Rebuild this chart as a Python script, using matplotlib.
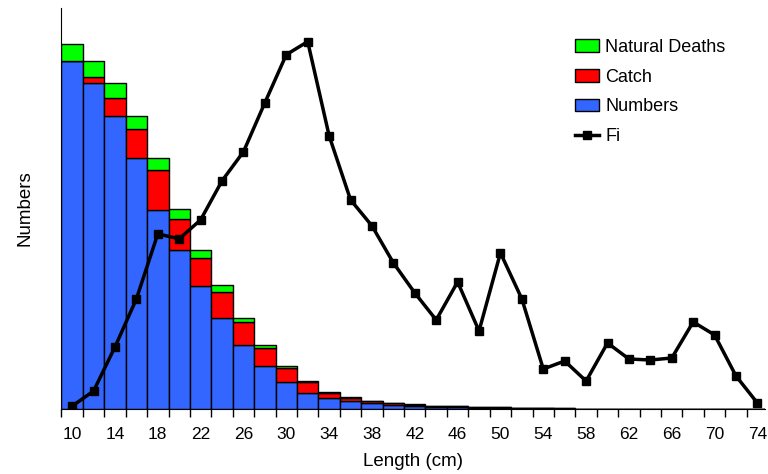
import matplotlib.pyplot as plt
import numpy as np

plt.rcParams['font.family'] = ['Liberation Sans', 'DejaVu Sans']

# length classes (cm)
lengths = list(range(10, 76, 2))

# stacked bar components (relative units)
numbers = [348, 326, 293, 251, 199, 159, 123, 91, 64, 43, 27, 16, 10.7, 8, 6,
           4.5, 3.5, 2.5, 2, 1.5, 1.2, 0.9, 0.7, 0.5, 0.4, 0.3, 0.2, 0.15,
           0.1, 0.1, 0.05, 0.05, 0.0]
catch = [0, 6, 18, 29, 40, 31, 28, 26, 23, 18, 14, 11, 5.6, 3, 2,
         1.2, 1, 0.8, 0.6, 0.5, 0.4, 0.3, 0.2, 0.2, 0.1, 0.1, 0.05, 0.05,
         0, 0, 0, 0, 0]
natural = [17, 16, 15, 13, 12, 10, 8, 7, 4, 3, 2, 1.5, 1, 0.7, 0.5,
           0.4, 0.3, 0.2, 0.2, 0.1, 0.1, 0.1, 0.05, 0.05, 0, 0, 0, 0,
           0, 0, 0, 0, 0]

# Fi line
fi = [3, 18, 62, 110, 175, 170, 189, 228, 257, 306, 354, 367, 273, 209, 183,
      146, 116, 89, 127, 78, 156, 110, 40, 48, 28, 66, 50, 49, 51, 87, 74,
      33, 6]

tick_labels = list(range(10, 76, 4))

fig = plt.figure(figsize=(7.68, 4.74), dpi=100)
ax = fig.add_axes([0.080, 0.137, 0.916, 0.847])

x = np.array(lengths)
numbers = np.array(numbers)
catch = np.array(catch)
natural = np.array(natural)

b1 = ax.bar(x, numbers, width=2, color='#3366FF', edgecolor='black', linewidth=1, label='Numbers')
b2 = ax.bar(x, catch, width=2, bottom=numbers, color='#FF0000', edgecolor='black', linewidth=1, label='Catch')
b3 = ax.bar(x, natural, width=2, bottom=numbers + catch, color='#00FF00', edgecolor='black', linewidth=1, label='Natural Deaths')

l1, = ax.plot(x, fi, color='black', linewidth=2.5, marker='s', markersize=6, label='Fi')

ax.set_xlim(9, 74.7)
ax.set_ylim(0, 401)

# tick marks at class edges, labels at every other class centre
ax.set_xticks(np.arange(9, 75, 2))
ax.set_xticklabels([])
ax.set_xticks(tick_labels, minor=True)
ax.set_xticklabels([str(t) for t in tick_labels], minor=True, fontsize=12.5)
ax.tick_params(axis='x', which='major', direction='out', length=6, width=1)
ax.tick_params(axis='x', which='minor', length=0, pad=13)
ax.set_yticks([])

ax.spines['top'].set_visible(False)
ax.spines['right'].set_visible(False)

ax.set_xlabel('Length (cm)', fontsize=13.5, labelpad=8)
ax.set_ylabel('Numbers', fontsize=13.5, labelpad=20)

ax.legend(handles=[b3, b2, b1, l1], loc='upper left', bbox_to_anchor=(0.728, 0.952),
          bbox_transform=fig.transFigure,
          frameon=False, fontsize=13, handlelength=1.33, handleheight=0.72,
          labelspacing=0.7, handletextpad=0.33)

fig.savefig('out.png', dpi=100)
